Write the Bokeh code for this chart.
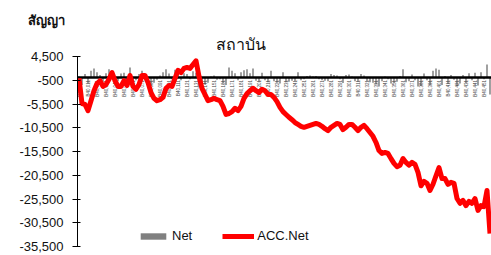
import math
from bokeh.plotting import figure
from bokeh.models import Range1d, FixedTicker, NumeralTickFormatter, Title, Legend, LegendItem, ColumnDataSource
from bokeh.core.properties import value
from bokeh.embed import file_html
from bokeh.resources import INLINE

# ---------------- data ----------------
acc_net = [
    -100, -5400, -5600, -6900, -4800, -2700, -1200, -600, -1800, -1400,
    -300, 1100, -600, -1800, -1800, -600, -1600, 500, -1800, -2400,
    -1400, 500, 500, -1000, -3100, -4300, -4800, -4600, -4100, -2200,
    -1600, -1800, -100, 1600, 1100, 2000, 2200, 2000, 2800, 3600,
    300, -2200, -3500, -4800, -4600, -4300, -4600, -4800, -6000, -7700,
    -7500, -7100, -6400, -6900, -6000, -4300, -3300, -2700, -2200, -2700,
    -3100, -2400, -2700, -3500, -3500, -4100, -5000, -6200, -7100, -7700,
    -8300, -8800, -9400, -9800, -10200, -10400, -10200, -10000, -9800, -9600,
    -9800, -10200, -10700, -11100, -10400, -10000, -9600, -9800, -10900, -10400,
    -9800, -9800, -10400, -11100, -10400, -10000, -10700, -11500, -12300, -13600,
    -15300, -15900, -15700, -15900, -17000, -18000, -18700, -18400, -17000, -17800,
    -18400, -17800, -18200, -19900, -22700, -21800, -22200, -23700, -22400, -20600,
    -18900, -21200, -21200, -22400, -22000, -22200, -25400, -26400, -25800, -26900,
    -26000, -26400, -25400, -27900, -26900, -27100, -23700, -32800,
]
net = [
    300, -1500, 800, -1200, 1500, 2000, 1200, 600, -800, 1000,
    1800, 1500, -1200, -700, 900, 1100, -600, 2200, -1500, -500,
    800, 1500, 400, -900, -1700, -1000, -400, 500, 1200, 1800,
    900, -300, 1700, 1800, -500, 1000, 800, -300, 1400, 1100,
    -2000, -1500, -1300, -1000, 300, 500, -400, -300, -1200, -1500,
    2200, 1500, 1000, -500, 1200, 1600, 1800, 1000, 2000, -600,
    -800, 1100, -500, -900, 1500, -700, -1000, -1200, 1200, -900,
    -800, -600, -700, 1200, -500, -300, 400, 500, 300, 400,
    -300, -500, -600, -700, 800, 600, 500, -300, -1100, 600,
    700, 300, -700, -800, 800, 500, -700, -900, -1000, -1400,
    -1800, -700, 300, -300, -1200, -1100, -800, 400, 1800, -900,
    -700, 700, -500, -1800, -1700, 900, -500, -1500, 1500, 2000,
    1700, -1500, 400, -1300, 600, -400, -1700, -1200, 600, -1100,
    1000, -500, 1100, -1600, 1200, -300, 2800, -3500,
]
x_labels = [
    "B40,001", "B40,011", "B40,021", "B40,031", "B40,041", "B40,051", "B40,061", "B40,071",
    "B40,081", "B40,091", "B40,101", "B40,111", "B40,121", "B40,131", "B40,141", "B40,151",
    "B40,161", "B40,171", "B40,181", "B40,191", "B40,201", "B40,211", "B40,221", "B40,231",
    "B40,241", "B40,251", "B40,261", "B40,271", "B40,281", "B40,291", "B40,301", "B40,311",
    "B40,321", "B40,331", "B40,341", "B40,351", "B40,361", "B40,371", "B40,381", "B40,391",
    "B40,401", "B40,411", "B40,421", "B40,431", "B40,441", "B40,451",
]
y_ticks = [4500, -500, -5500, -10500, -15500, -20500, -25500, -30500, -35500]
title_text = "สถาบัน"
y_title = "สัญญา"
series_names = ["Net", "ACC.Net"]

# ---------------- figure ----------------
n = len(acc_net)
idx = list(range(n))
label_pos = idx[::3][:len(x_labels)]

p = figure(width=491, height=255, output_backend="svg", toolbar_location=None,
           x_range=Range1d(-0.5, n - 0.5), y_range=Range1d(y_ticks[-1], y_ticks[0]),
           min_border_left=77, min_border_right=0, min_border_top=56, min_border_bottom=9)
p.outline_line_color = None
p.xgrid.visible = False
p.ygrid.visible = False
p.xaxis.visible = False
p.background_fill_color = "white"
p.border_fill_color = "white"

ax = p.yaxis[0]
ax.ticker = FixedTicker(ticks=y_ticks)
ax.formatter = NumeralTickFormatter(format="0,0")
ax.major_tick_in = 3
ax.major_tick_out = 5
ax.minor_tick_line_color = None
ax.axis_line_color = "black"
ax.major_tick_line_color = "black"
ax.major_label_text_font = "Liberation Sans"
ax.major_label_text_font_size = "13px"
ax.major_label_text_color = "#111111"
ax.major_label_standoff = 9

src = ColumnDataSource(dict(x=idx, net=net, acc=acc_net))
bars = p.vbar(x="x", top="net", bottom=0, width=0.5, source=src,
              fill_color="#808080", line_color=None)
p.hspan(y=[0], line_color="black", line_width=2.5)
lsrc = ColumnDataSource(dict(x=label_pos, y=[-450] * len(label_pos), t=x_labels))
p.text(x="x", y="y", text="t", source=lsrc, angle=math.pi / 2,
       text_align="right", text_baseline="middle", text_font_size="4.5px",
       text_color="#444444", text_font=value("Liberation Sans"))
line = p.line(x="x", y="acc", source=src, line_color="#ff0000", line_width=5,
              line_join="round")

legend = Legend(items=[LegendItem(label=series_names[0], renderers=[bars]),
                       LegendItem(label=series_names[1], renderers=[line])],
                orientation="horizontal", location=(60, 3),
                glyph_width=32, glyph_height=8, label_height=14,
                label_standoff=3, spacing=30, padding=0, margin=0,
                border_line_color=None, background_fill_alpha=0,
                label_text_font="Liberation Sans", label_text_font_size="13px",
                label_text_color="#111111")
p.add_layout(legend, "center")

p.add_layout(Title(text=title_text, align="left", offset=138, standoff=4,
                   text_line_height=0.75,
                   text_font="Noto Sans", text_font_size="16px", text_color="#111111",
                   text_font_style="normal"), "above")
p.add_layout(Title(text=y_title, align="left", offset=-50, standoff=0,
                   text_font="Noto Sans", text_font_size="13px", text_color="#111111",
                   text_font_style="bold"), "above")

open("out.html", "w").write(file_html(p, INLINE))
